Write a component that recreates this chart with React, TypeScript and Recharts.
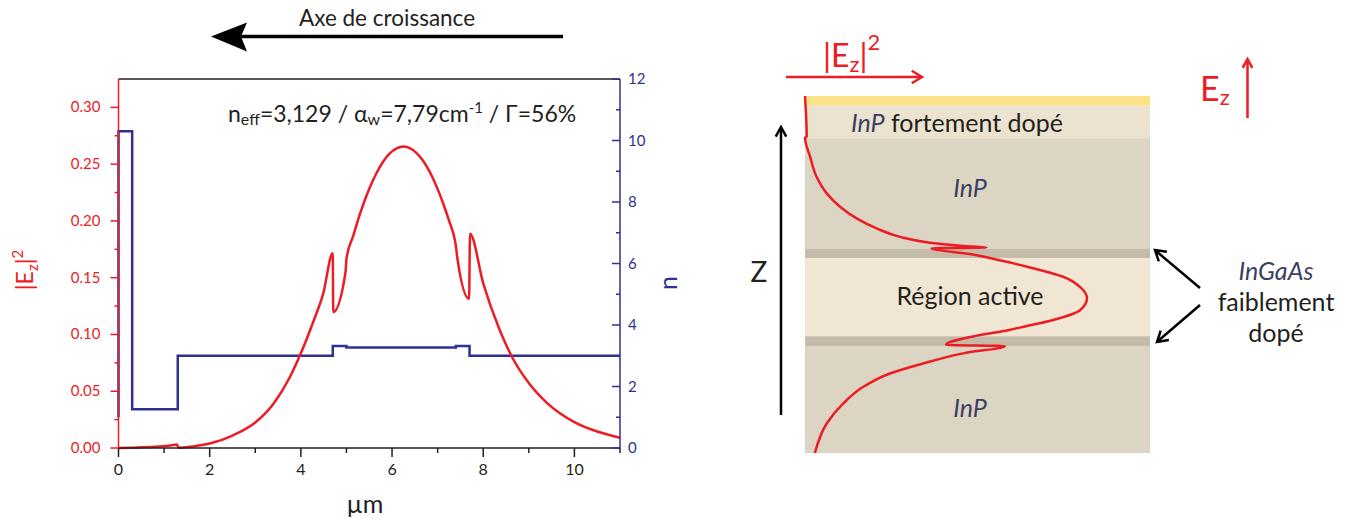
import React from 'react';
import { ComposedChart, Line, XAxis, YAxis, ReferenceArea } from 'recharts';

// |Ez|^2 profile along the growth axis (µm)
const fieldX = [0, 0.3, 0.8, 1.1, 1.28, 1.32, 1.6, 2.0, 2.5, 3.0, 3.4, 3.76, 3.98, 4.27, 4.49, 4.7, 4.71, 4.98, 5.0, 5.15, 5.3, 5.48, 5.66, 5.8, 5.95, 6.1, 6.25, 6.4, 6.54, 6.68, 6.83, 6.98, 7.12, 7.25, 7.38, 7.4, 7.43, 7.69, 7.71, 8.0, 8.35, 8.62, 9.02, 9.39, 10.0, 10.5, 11.0];
const fieldE2 = [0, 0.0003, 0.001, 0.002, 0.003, 0.0002, 0.0012, 0.0039, 0.011, 0.0225, 0.039, 0.0625, 0.0816, 0.111, 0.136, 0.1716, 0.1197, 0.155, 0.1666, 0.187, 0.2066, 0.2263, 0.2422, 0.2519, 0.2594, 0.264, 0.2655, 0.264, 0.2598, 0.253, 0.243, 0.23, 0.2156, 0.2003, 0.1827, 0.178, 0.168, 0.1314, 0.1886, 0.145, 0.105, 0.081, 0.0561, 0.04, 0.0228, 0.0145, 0.0091];

// refractive index profile (step function)
const indexX = [0, 0, 0.3, 0.3, 1.3, 1.3, 4.7, 4.7, 5.0, 5.0, 7.4, 7.4, 7.7, 7.7, 11];
const indexN = [1.0, 10.3, 10.3, 1.26, 1.26, 3.0, 3.0, 3.32, 3.32, 3.27, 3.27, 3.32, 3.32, 3.0, 3.0];

const xTicks = [0, 1, 2, 3, 4, 5, 6, 7, 8, 9, 10, 11];
const e2Ticks = [0, 0.025, 0.05, 0.075, 0.1, 0.125, 0.15, 0.175, 0.2, 0.225, 0.25, 0.275, 0.3];
const nTicks = [0, 1, 2, 3, 4, 5, 6, 7, 8, 9, 10, 11, 12];

// schematic: relative |Ez|^2 (peak = 1) vs depth z (µm)
const schemZ = [0, 1.25, 1.29, 1.87, 2.49, 3.0, 3.41, 3.77, 4.08, 4.34, 4.52, 4.62, 4.67, 4.69, 4.87, 5.11, 5.31, 5.57, 5.88, 6.23, 6.6, 6.9, 7.1, 7.25, 7.4, 7.67, 7.7, 7.93, 8.24, 8.55, 8.96, 9.47, 10.09, 11.0];
const schemV = [0, 0.006, 0, 0.018, 0.041, 0.077, 0.124, 0.183, 0.254, 0.337, 0.443, 0.561, 0.644, 0.449, 0.585, 0.715, 0.809, 0.915, 0.975, 1.0, 0.975, 0.88, 0.78, 0.7, 0.6, 0.5, 0.709, 0.561, 0.419, 0.301, 0.207, 0.136, 0.077, 0.035];

// layer stack (µm)
const layerFrom = [0, 0.3, 1.3, 4.7, 5.0, 7.4, 7.7];
const layerTo = [0.3, 1.3, 4.7, 5.0, 7.4, 7.7, 11];
const layerColor = ['#fde287', '#ebe3d0', '#dcd5c3', '#c4bba8', '#f0e6d3', '#c4bba8', '#dcd5c3'];

const RED = '#ed1c24';
const BLUE = '#2e3192';
const INK = '#231f20';
const FONT = 'Lato, "Noto Sans", sans-serif';

const fieldData = fieldX.map((x, i) => ({ x, e2: fieldE2[i] }));
const indexData = indexX.map((x, i) => ({ x, n: indexN[i] }));
const schemData = schemZ.map((z, i) => ({ z, v: schemV[i] }));

const BottomTick = (p: any) => {
  const major = p.payload.value % 2 === 0;
  return (
    <g>
      <line x1={p.x} x2={p.x} y1={p.y} y2={p.y + (major ? 9 : 5)} stroke={INK} strokeWidth={1.5} />
      {major && (
        <text x={p.x} y={p.y + 27} textAnchor="middle" fill={INK} fontSize={16} fontFamily={FONT}>
          {p.payload.value}
        </text>
      )}
    </g>
  );
};

const TopTick = (p: any) => {
  const major = p.payload.value % 2 === 0;
  return <line x1={p.x} x2={p.x} y1={p.y} y2={p.y - (major ? 9 : 5)} stroke={INK} strokeWidth={1.5} />;
};

const LeftTick = (p: any) => {
  const v = p.payload.value;
  const major = Math.round(v * 1000) % 50 === 0;
  return (
    <g>
      <line x1={p.x} x2={p.x - (major ? 8 : 4)} y1={p.y} y2={p.y} stroke={RED} strokeWidth={1.5} />
      {major && (
        <text x={p.x - 18} y={p.y + 5} textAnchor="end" fill={RED} fontSize={15} fontFamily={FONT}>
          {v.toFixed(2)}
        </text>
      )}
    </g>
  );
};

const RightTick = (p: any) => {
  const major = p.payload.value % 2 === 0;
  return (
    <g>
      <line x1={p.x} x2={p.x - (major ? 8 : 4)} y1={p.y} y2={p.y} stroke={BLUE} strokeWidth={1.5} />
      {major && (
        <text x={p.x + 8} y={p.y + 5} textAnchor="start" fill={BLUE} fontSize={15} fontFamily={FONT}>
          {p.payload.value}
        </text>
      )}
    </g>
  );
};

function chevron(tx: number, ty: number, fx: number, fy: number, len = 11, spread = 0.6) {
  const a = Math.atan2(fy - ty, fx - tx);
  const p1 = [tx + len * Math.cos(a + spread), ty + len * Math.sin(a + spread)];
  const p2 = [tx + len * Math.cos(a - spread), ty + len * Math.sin(a - spread)];
  return `M${p1[0]},${p1[1]} L${tx},${ty} L${p2[0]},${p2[1]}`;
}

function Annotations() {
  const italic = '#3c3e63';
  return (
    <svg width={1358} height={524} style={{ position: 'absolute', left: 0, top: 0, pointerEvents: 'none' }} fontFamily={FONT}>
      {/* growth axis arrow */}
      <text x={387} y={26} textAnchor="middle" fontSize={22.5} fill={INK}>Axe de croissance</text>
      <line x1={563} y1={36.5} x2={240} y2={36.5} stroke="#000" strokeWidth={3.5} />
      <path d="M211,36.5 L247,22.5 L241,36.5 L247,51.5 Z" fill="#000" />

      {/* mode parameters */}
      <text x={228} y={122} fontSize={23} fill={INK}>
        n<tspan fontSize={16} dy={3}>eff</tspan>
        <tspan dy={-3}>=3,129 / α</tspan>
        <tspan fontSize={16} dy={3}>w</tspan>
        <tspan dy={-3}>=7,79cm</tspan>
        <tspan fontSize={15} dy={-9}>-1</tspan>
        <tspan dy={9}> / Γ=56%</tspan>
      </text>

      {/* axis titles */}
      <text transform="translate(33,270) rotate(-90)" textAnchor="middle" fill={RED} fontSize={23}>
        |E<tspan fontSize={15} dy={5}>z</tspan>
        <tspan dy={-5}>|</tspan>
        <tspan fontSize={15} dy={-10}>2</tspan>
      </text>
      <text transform="translate(677,283) rotate(-90)" textAnchor="middle" fill={BLUE} fontSize={25}>n</text>
      <text x={365} y={513} textAnchor="middle" fill={INK} fontSize={25}>µm</text>

      {/* schematic labels */}
      <text x={823} y={67} fill={RED} fontSize={32}>
        |E<tspan fontSize={22} dy={5}>z</tspan>
        <tspan dy={-5}>|</tspan>
        <tspan fontSize={22} dy={-17}>2</tspan>
      </text>
      <line x1={786} y1={77} x2={921} y2={77} stroke={RED} strokeWidth={2.5} />
      <path d={chevron(922, 77, 786, 77, 12, 0.55)} stroke={RED} strokeWidth={2.5} fill="none" />

      <text x={1200} y={101} fill={RED} fontSize={34}>
        E<tspan fontSize={22} dy={4}>z</tspan>
      </text>
      <line x1={1247.5} y1={118} x2={1247.5} y2={60} stroke={RED} strokeWidth={2.5} />
      <path d={chevron(1247.5, 59, 1247.5, 118, 10, 0.5)} stroke={RED} strokeWidth={2.5} fill="none" />

      <line x1={781} y1={415} x2={781} y2={128} stroke="#000" strokeWidth={2.5} />
      <path d={chevron(781, 127, 781, 415, 11, 0.5)} stroke="#000" strokeWidth={2.5} fill="none" />
      <text x={759} y={282} textAnchor="middle" fill={INK} fontSize={28}>Z</text>

      <text x={851} y={132} fontSize={25}>
        <tspan fontStyle="italic" fill={italic}>InP</tspan>
        <tspan fill={INK}> fortement dopé</tspan>
      </text>
      <text x={970} y={197} textAnchor="middle" fontSize={25} fontStyle="italic" fill={italic}>InP</text>
      <text x={970} y={305} textAnchor="middle" fontSize={25} fill={INK}>Région active</text>
      <text x={970} y={417} textAnchor="middle" fontSize={25} fontStyle="italic" fill={italic}>InP</text>

      <text x={1276} y={280} textAnchor="middle" fontSize={25} fontStyle="italic" fill={italic}>InGaAs</text>
      <text x={1276} y={311} textAnchor="middle" fontSize={25} fill={INK}>faiblement</text>
      <text x={1276} y={342} textAnchor="middle" fontSize={25} fill={INK}>dopé</text>
      <line x1={1200} y1={288} x2={1156} y2={251} stroke="#000" strokeWidth={2.5} />
      <path d={chevron(1155, 250, 1200, 288, 12, 0.55)} stroke="#000" strokeWidth={2.5} fill="none" />
      <line x1={1200} y1={305} x2={1158} y2={341} stroke="#000" strokeWidth={2.5} />
      <path d={chevron(1157, 342, 1200, 305, 12, 0.55)} stroke="#000" strokeWidth={2.5} fill="none" />
    </svg>
  );
}

export default function App() {
  return (
    <div style={{ position: 'absolute', left: 0, top: 0, width: 1358, height: 524, background: '#fff', fontFamily: FONT }}>
      <div style={{ position: 'absolute', left: 0, top: 0 }}>
        <ComposedChart width={700} height={524} margin={{ top: 59, right: 0, bottom: 0, left: 0 }}>
          <XAxis
            dataKey="x"
            type="number"
            domain={[0, 11]}
            ticks={xTicks}
            interval={0}
            height={76}
            tickSize={0}
            tickMargin={0}
            tick={BottomTick}
            axisLine={{ stroke: INK, strokeWidth: 1.5 }}
          />
          <XAxis
            xAxisId="top"
            dataKey="x"
            type="number"
            orientation="top"
            domain={[0, 11]}
            ticks={xTicks}
            interval={0}
            height={20}
            tickSize={0}
            tickMargin={0}
            tick={TopTick}
            axisLine={{ stroke: INK, strokeWidth: 1.5 }}
          />
          <YAxis
            yAxisId="left"
            type="number"
            domain={[0, 0.325]}
            ticks={e2Ticks}
            interval={0}
            width={118.5}
            tickSize={0}
            tickMargin={0}
            tick={LeftTick}
            axisLine={{ stroke: RED, strokeWidth: 1.5 }}
          />
          <YAxis
            yAxisId="right"
            orientation="right"
            type="number"
            domain={[0, 12]}
            ticks={nTicks}
            interval={0}
            width={80}
            tickSize={0}
            tickMargin={0}
            tick={RightTick}
            axisLine={{ stroke: BLUE, strokeWidth: 1.5 }}
          />
          <Line
            yAxisId="right"
            data={indexData}
            dataKey="n"
            type="linear"
            stroke={BLUE}
            strokeWidth={2.5}
            dot={false}
            activeDot={false}
            isAnimationActive={false}
          />
          <Line
            yAxisId="left"
            data={fieldData}
            dataKey="e2"
            type="monotone"
            stroke={RED}
            strokeWidth={2.5}
            dot={false}
            activeDot={false}
            isAnimationActive={false}
          />
        </ComposedChart>
      </div>

      <div style={{ position: 'absolute', left: 795, top: 86 }}>
        <ComposedChart layout="vertical" width={365} height={377} margin={{ top: 10, right: 10, bottom: 10, left: 10 }}>
          <XAxis type="number" domain={[0, 1.2234]} hide />
          <YAxis type="number" dataKey="z" domain={[0, 11]} hide />
          {layerFrom.map((from, i) => (
            <ReferenceArea key={i} y1={from} y2={layerTo[i]} fill={layerColor[i]} fillOpacity={1} stroke="none" />
          ))}
          <Line
            data={schemData}
            dataKey="v"
            type="monotone"
            stroke={RED}
            strokeWidth={2.5}
            dot={false}
            activeDot={false}
            isAnimationActive={false}
          />
        </ComposedChart>
      </div>

      <Annotations />
    </div>
  );
}
